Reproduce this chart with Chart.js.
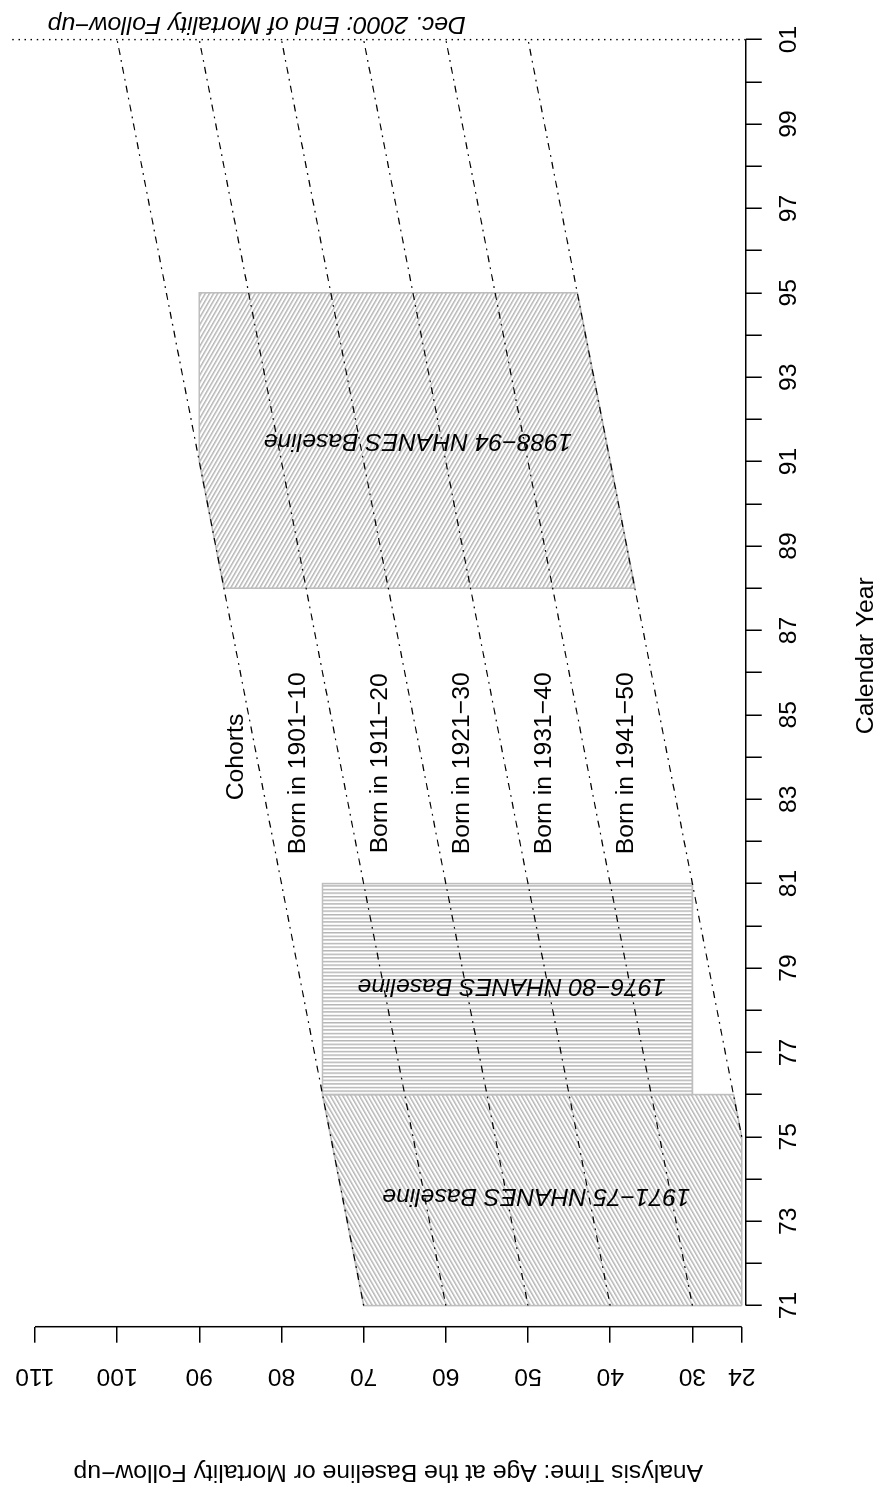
<!DOCTYPE html>
<html>
<head>
<meta charset="utf-8">
<script src="https://cdn.jsdelivr.net/npm/chart.js@4.4.0/dist/chart.umd.min.js"></script>
<style>
    html, body { margin: 0; padding: 0; background: #fff; overflow: hidden; }
    /* the chart is drawn lying down (year across) and turned a quarter turn */
    #wrap {
        position: absolute; left: 0; top: 0;
        width: 1490px; height: 889px;
        transform-origin: 0 0;
        transform: translateY(1490px) rotate(-90deg);
    }
    canvas { display: block; }
</style>
</head>
<body>
<div id="wrap"><canvas id="cohortChart" width="1490" height="889"></canvas></div>
<script>
// calendar year axis (two digit years, 101 = 2001)
const yearTicks = [71, 72, 73, 74, 75, 76, 77, 78, 79, 80, 81, 82, 83, 84, 85, 86,
                   87, 88, 89, 90, 91, 92, 93, 94, 95, 96, 97, 98, 99, 100, 101];
const yearLabels = ['71', '', '73', '', '75', '', '77', '', '79', '', '81', '', '83', '', '85', '',
                    '87', '', '89', '', '91', '', '93', '', '95', '', '97', '', '99', '', '01'];
const ageTicks = [24, 30, 40, 50, 60, 70, 80, 90, 100, 110];

// baseline surveys (outline corners, year / age)
const surveyNames = ['1971\u221275 NHANES Baseline', '1976\u221280 NHANES Baseline', '1988\u221294 NHANES Baseline'];
const survey1Years = [71, 71, 76, 76, 75, 71];
const survey1Ages = [24, 70, 75, 25, 24, 24];
const survey2Years = [76, 76, 81, 81, 76];
const survey2Ages = [30, 75, 75, 30, 30];
const survey3Years = [88, 88, 91, 95, 95, 88];
const survey3Ages = [37, 87, 90, 90, 44, 37];
const surveyLabelYears = [73.6, 78.58, 91.5];
const surveyLabelAges = [49, 52, 63.4];

// cohort boundaries
const cohortStartYears = [71, 71, 71, 71, 71, 75];
const cohortStartAges = [70, 60, 50, 40, 30, 24];
const cohortEndYears = [101, 101, 101, 101, 101, 101];
const cohortEndAges = [100, 90, 80, 70, 60, 50];
const cohortLabels = ['Born in 1901\u221210', 'Born in 1911\u221220', 'Born in 1921\u221230',
                      'Born in 1931\u221240', 'Born in 1941\u221250'];
const cohortLabelAges = [78, 68, 58, 48, 38];
const cohortLabelYear = 83.85;

// end of follow-up
const followUpYears = [101, 101];
const followUpAges = [23.5, 112.9];
const followUpText = 'Dec. 2000: End of Mortality Follow\u2212up';

const FONT = '"Liberation Sans", Arial, Helvetica, sans-serif';
const FONT_SIZE = 24.7;

function points(xs, ys) {
    return xs.map((v, i) => ({ x: v, y: ys[i] }));
}

// striped fill, rotated
function makeHatch(angle) {
    const tile = document.createElement('canvas');
    tile.width = 4;
    tile.height = 4;
    const t = tile.getContext('2d');
    t.fillStyle = '#b4b4b4';
    t.fillRect(0, 0, 4, 1.6);
    const pattern = t.createPattern(tile, 'repeat');
    pattern.setTransform(new DOMMatrix().rotate(angle).scale(1, 0.9));
    return pattern;
}

const surveyYears = [survey1Years, survey2Years, survey3Years];
const surveyAges = [survey1Ages, survey2Ages, survey3Ages];
const hatches = [makeHatch(-30), makeHatch(90), makeHatch(30)];

const datasets = [];

datasets.push({
    data: points(followUpYears, followUpAges),
    borderColor: '#000',
    borderWidth: 1.4,
    borderDash: [1.5, 4.6],
    pointRadius: 0,
    clip: false,
    order: 0
});

cohortStartYears.forEach((sy, i) => {
    datasets.push({
        data: points([sy, cohortEndYears[i]], [cohortStartAges[i], cohortEndAges[i]]),
        borderColor: '#000',
        borderWidth: 1.2,
        borderDash: [1.8, 5.2, 7, 5.2],
        pointRadius: 0,
        order: 1
    });
});

surveyYears.forEach((ys, i) => {
    datasets.push({
        data: points(ys, surveyAges[i]),
        borderColor: '#bebebe',
        borderWidth: 1.6,
        backgroundColor: hatches[i],
        fill: 'shape',
        pointRadius: 0,
        order: 2
    });
});

// R style axis lines: only from first to last tick
const axisLines = {
    id: 'axisLines',
    afterDraw(chart) {
        const { ctx, chartArea, scales } = chart;
        const x = scales.x, y = scales.y;
        ctx.save();
        ctx.strokeStyle = '#000';
        ctx.lineWidth = 1.5;
        ctx.beginPath();
        ctx.moveTo(x.getPixelForValue(yearTicks[0]), chartArea.bottom);
        ctx.lineTo(x.getPixelForValue(yearTicks[yearTicks.length - 1]), chartArea.bottom);
        ctx.moveTo(chartArea.left, y.getPixelForValue(ageTicks[0]));
        ctx.lineTo(chartArea.left, y.getPixelForValue(ageTicks[ageTicks.length - 1]));
        ctx.stroke();

        // year axis title
        ctx.fillStyle = '#000';
        ctx.font = FONT_SIZE + 'px ' + FONT;
        ctx.textAlign = 'center';
        ctx.textBaseline = 'middle';
        ctx.fillText('Calendar Year', x.getPixelForValue(86.4), 866);
        ctx.restore();
    }
};

const textLabels = {
    id: 'textLabels',
    afterDatasetsDraw(chart) {
        const { ctx, scales } = chart;
        const x = scales.x, y = scales.y;
        ctx.save();
        ctx.fillStyle = '#000';
        ctx.textAlign = 'center';
        ctx.textBaseline = 'middle';

        ctx.font = FONT_SIZE + 'px ' + FONT;
        ctx.fillText('Cohorts', x.getPixelForValue(84), y.getPixelForValue(85.5));
        cohortLabels.forEach((t, i) => {
            ctx.fillText(t, x.getPixelForValue(cohortLabelYear), y.getPixelForValue(cohortLabelAges[i]));
        });

        ctx.font = 'italic ' + FONT_SIZE + 'px ' + FONT;
        surveyNames.forEach((t, i) => {
            ctx.save();
            ctx.translate(x.getPixelForValue(surveyLabelYears[i]), y.getPixelForValue(surveyLabelAges[i]));
            ctx.rotate(-Math.PI / 2);
            ctx.fillText(t, 0, 0);
            ctx.restore();
        });

        ctx.save();
        ctx.translate(x.getPixelForValue(101.38), y.getPixelForValue(83));
        ctx.rotate(-Math.PI / 2);
        ctx.fillText(followUpText, 0, 0);
        ctx.restore();

        ctx.restore();
    }
};

const tickGrid = {
    drawOnChartArea: false,
    drawTicks: true,
    tickLength: 16,
    color: '#000',
    lineWidth: 1.5
};

new Chart(document.getElementById('cohortChart'), {
    type: 'line',
    data: { datasets: datasets },
    options: {
        responsive: false,
        devicePixelRatio: 1,
        animation: false,
        font: { family: FONT, size: FONT_SIZE },
        color: '#000',
        layout: { padding: { left: 0, right: 18.5, top: 30.8, bottom: 0 } },
        plugins: {
            legend: { display: false },
            tooltip: { enabled: false }
        },
        scales: {
            x: {
                type: 'linear',
                min: 70.5,
                max: 101.5,
                afterBuildTicks: (s) => { s.ticks = yearTicks.map(v => ({ value: v })); },
                afterFit: (s) => { s.height = 143.2; },
                grid: tickGrid,
                border: { display: false },
                ticks: {
                    autoSkip: false,
                    minRotation: 0,
                    maxRotation: 0,
                    padding: 13,
                    color: '#000',
                    font: { family: FONT, size: FONT_SIZE },
                    callback: (v) => yearLabels[yearTicks.indexOf(v)]
                },
                title: { display: false }
            },
            y: {
                type: 'linear',
                min: 23.5,
                max: 110.5,
                afterBuildTicks: (s) => { s.ticks = ageTicks.map(v => ({ value: v })); },
                afterFit: (s) => { s.width = 163.3; },
                grid: tickGrid,
                border: { display: false },
                ticks: {
                    autoSkip: false,
                    minRotation: 90,
                    maxRotation: 90,
                    crossAlign: 'center',
                    padding: 13,
                    color: '#000',
                    font: { family: FONT, size: FONT_SIZE },
                    callback: (v) => String(v)
                },
                title: {
                    display: true,
                    text: 'Analysis Time: Age at the Baseline or Mortality Follow\u2212up',
                    color: '#000',
                    font: { family: FONT, size: FONT_SIZE },
                    padding: { top: 3, bottom: 0 }
                }
            }
        }
    },
    plugins: [axisLines, textLabels]
});
</script>
</body>
</html>
